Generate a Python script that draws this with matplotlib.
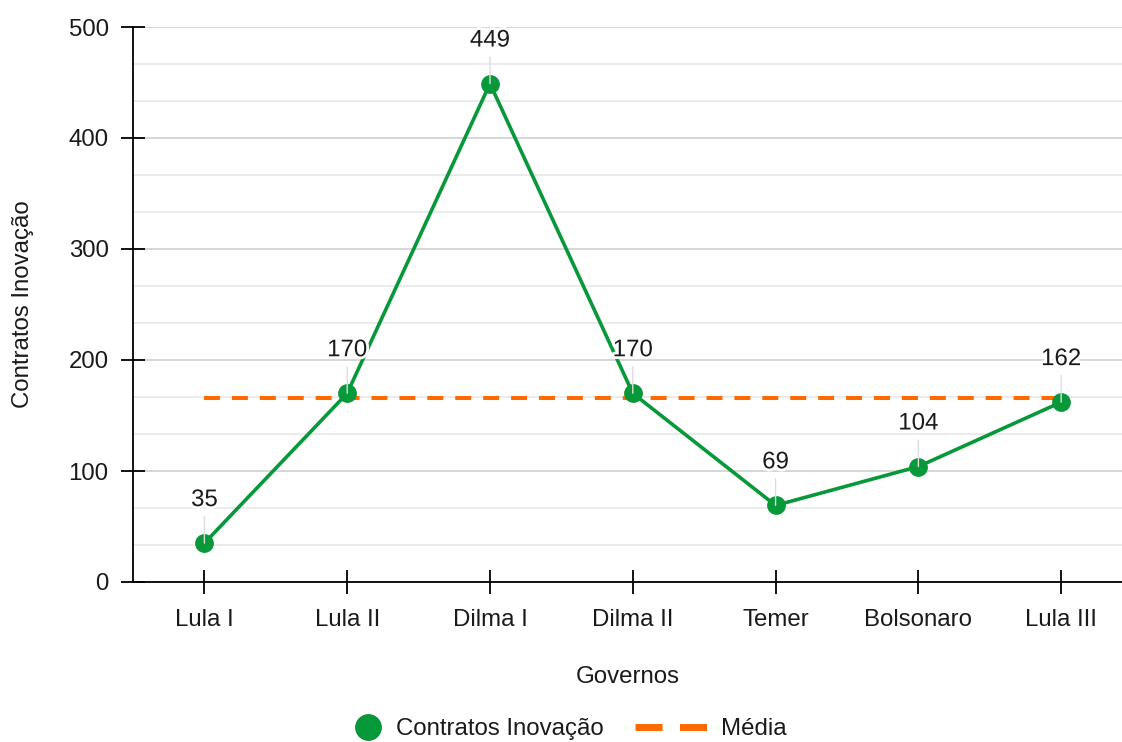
import matplotlib.pyplot as plt
import matplotlib.patheffects as pe
from matplotlib.legend_handler import HandlerLine2D
from matplotlib.lines import Line2D
from matplotlib.ticker import MultipleLocator
import numpy as np

plt.rcParams['font.family'] = ['Liberation Sans', 'DejaVu Sans']
plt.rcParams['lines.scale_dashes'] = False

# Contratos de inovação por governo
governos = ["Lula I", "Lula II", "Dilma I", "Dilma II", "Temer", "Bolsonaro", "Lula III"]
contratos = [35, 170, 449, 170, 69, 104, 162]

GREEN = "#07983a"
ORANGE = "#ff6a00"
TEXT = "#1a1a1a"
FS = 17.3


class MarkerAtEnd(HandlerLine2D):
    """Puts the legend marker close to its label instead of the handle centre."""
    def get_xdata(self, legend, xdescent, ydescent, width, height, fontsize):
        m = -xdescent + width - 9.8
        return np.array([m, m]), np.array([m])


media = np.mean(contratos)
xs = np.arange(len(governos))

fig = plt.figure(figsize=(11.22, 7.42), dpi=100)
ax = fig.add_axes([133 / 1122, 160 / 742, 989 / 1122, 555 / 742])

ax.plot(xs, [media] * len(xs), color=ORANGE, lw=2.9, dashes=(11.5, 8.6), zorder=2)
ax.plot(xs, contratos, color=GREEN, lw=2.6, marker="o", markersize=12.5, zorder=3)

# rótulos de valor com linha guia
halo = [pe.withStroke(linewidth=4, foreground="white")]
for x, v in zip(xs, contratos):
    ax.annotate(str(v), xy=(x, v), xytext=(0, 31), textcoords="offset points",
                ha="center", va="center", fontsize=FS, color=TEXT,
                path_effects=halo,
                arrowprops=dict(arrowstyle="-", color="#dddddd", lw=1,
                                shrinkA=2, shrinkB=0),
                zorder=4)

ax.set_xlim(-0.5, 6.426)
ax.set_ylim(0, 500)
ax.set_xticks(xs)
ax.set_xticklabels(governos)
ax.yaxis.set_major_locator(MultipleLocator(100))
ax.yaxis.set_minor_locator(MultipleLocator(100 / 3))

ax.grid(axis="y", which="major", color="#cccccc", lw=1.1, zorder=0)
ax.grid(axis="y", which="minor", color="#e6e6e6", lw=1.1, zorder=0)
ax.set_axisbelow(True)

for s in ["top", "right"]:
    ax.spines[s].set_visible(False)
for s in ["left", "bottom"]:
    ax.spines[s].set_linewidth(1.3)
    ax.spines[s].set_color("black")

ax.tick_params(axis="both", which="major", direction="inout", length=17,
               width=1.3, labelsize=FS, colors="black", labelcolor=TEXT)
ax.tick_params(axis="y", which="minor", length=0)
ax.tick_params(axis="x", pad=11)
ax.tick_params(axis="y", pad=9)

ax.set_xlabel("Governos", fontsize=FS, color=TEXT, labelpad=25)
ax.set_ylabel("Contratos Inovação", fontsize=FS, color=TEXT)
ax.yaxis.set_label_coords(-99 / 989, 0.5)

marker_handle = Line2D([], [], color=GREEN, marker="o", markersize=18, lw=0)
dash_handle = Line2D([], [], color=ORANGE, lw=5, dashes=(19.5, 12.5))
fig.legend([marker_handle, dash_handle], ["Contratos Inovação", "Média"],
           handler_map={marker_handle: MarkerAtEnd(numpoints=2)},
           loc="center", bbox_to_anchor=(548 / 1122, 1 - 729 / 742), ncol=2,
           frameon=False, fontsize=FS, handlelength=3.0, columnspacing=1.3,
           handletextpad=0.6, labelcolor=TEXT)

fig.savefig("out.png", dpi=100)
